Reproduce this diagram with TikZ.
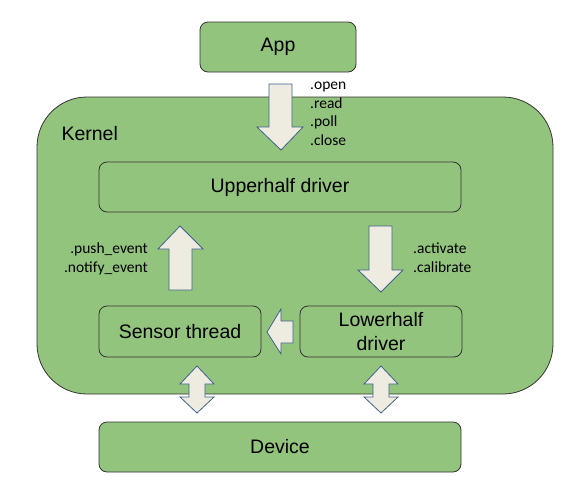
\documentclass[tikz,border=0pt]{standalone}
\usepackage{fontspec}
\setmainfont{Liberation Sans}
\newfontfamily\calfont{Carlito}
\usetikzlibrary{positioning}
\definecolor{boxgreen}{HTML}{93C47D}
\definecolor{arrowfill}{HTML}{EEECE1}
\definecolor{arrowline}{HTML}{41618A}
\begin{document}
\begin{tikzpicture}[x=1pt, y=-1pt]
    \tikzset{
      block/.style={draw=black!80, fill=boxgreen, rounded corners=8pt, line width=0.8pt,
        font=\fontsize{19.5}{24}\selectfont, inner sep=0pt, align=center},
      blockarrow/.style={draw=arrowline, fill=arrowfill, line width=0.8pt},
      calls/.style={font=\calfont\fontsize{15.5}{18.5}\selectfont, inner sep=0pt}
    }
  \useasboundingbox (0,0) rectangle (568,501);

  % kernel area first so everything sits on top
  \node[block, rounded corners=50pt, minimum width=516pt, minimum height=297pt] (kernel) at (295,245.5) {};
  \node[font=\fontsize{19.5}{24}\selectfont, anchor=west] (kernellabel) at (58,134) {Kernel};

  % boxes
  \node[block, minimum width=156pt, minimum height=50pt] (app)    at (278,47)    {App};
  \node[block, minimum width=362pt, minimum height=50pt] (upper)  at (280,187)   {Upperhalf driver};
  \node[block, minimum width=162pt, minimum height=51pt] (sensor) at (180,331.5) {Sensor thread};
  \node[block, minimum width=162pt, minimum height=51pt] (lower)  at (381,331.5) {Lowerhalf\\driver};
  \node[block, minimum width=362pt, minimum height=50pt] (device) at (280,447)   {Device};

  % block arrows
  \draw[blockarrow] (269,84) -- (292,84) -- (292,127) -- (303,127) -- (281,150)
    -- (257,127) -- (269,127) -- cycle;
  \draw[blockarrow] (169,290) -- (192,290) -- (192,249) -- (203,249) -- (180,226)
    -- (158,249) -- (169,249) -- cycle;
  \draw[blockarrow] (369,226) -- (392,226) -- (392,270) -- (403,270) -- (381,292)
    -- (358,270) -- (369,270) -- cycle;
  \draw[blockarrow] (293,321) -- (293,343) -- (281,343) -- (281,354) -- (267,332)
    -- (281,309) -- (281,321) -- cycle;

  % two-way arrows to the device
  \foreach \c in {197,381} {
    \draw[blockarrow] (\c,366) -- (\c+17,384) -- (\c+8,384) -- (\c+8,397) -- (\c+17,397)
      -- (\c,413) -- (\c-17,397) -- (\c-8,397) -- (\c-8,384) -- (\c-17,384) -- cycle;
  }

  % call labels
  \node[calls, align=left, anchor=north west] (appcalls) at (310,82)
    {.open\\.read\\.poll\\.close};
  \node[calls, align=right, anchor=north east] (eventcalls) at (148,243)
    {.push\_event\\.notify\_event};
  \node[calls, align=left, anchor=north west] (lowercalls) at (413,243)
    {.activate\\.calibrate};
\end{tikzpicture}
\end{document}
